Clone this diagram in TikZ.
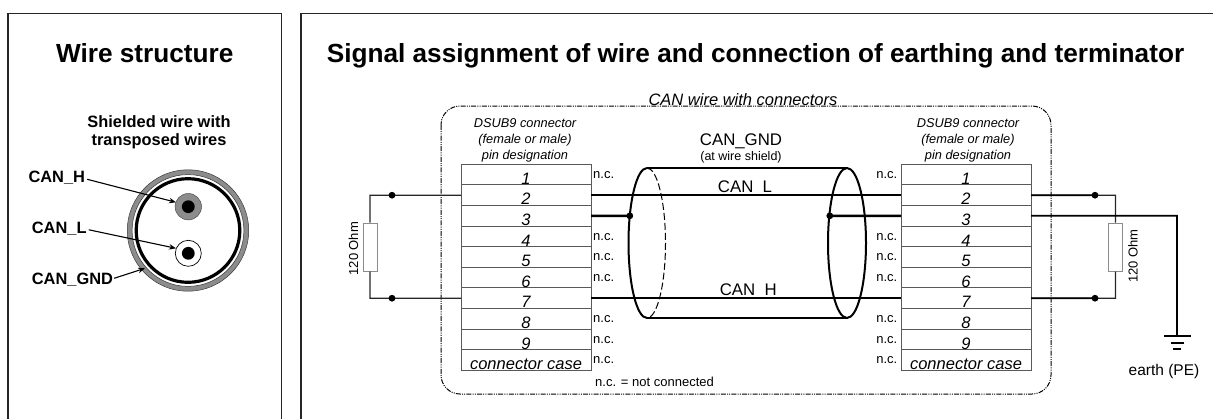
\documentclass[tikz,border=0pt]{standalone}
\usepackage{fontspec}
\setmainfont{Liberation Sans}
\usetikzlibrary{arrows.meta}
\newcommand\fsz[1]{\fontsize{#1pt}{#1pt}\selectfont}
\begin{document}
\begin{tikzpicture}[x=1pt,y=-1pt,
  panel/.style={draw=black!85, line width=1.8pt},
  title/.style={font=\fsz{26.2}\bfseries, inner sep=0pt},
  blbl/.style={font=\fsz{16.4}\bfseries, inner sep=0pt},
  pinrow/.style={draw=black!65, line width=0.9pt, minimum width=130pt, minimum height=20.6pt, inner sep=0pt, outer sep=0pt},
  rowtxt/.style={font=\fsz{16.5}\itshape, inner sep=0pt},
  hdr/.style={font=\fsz{12.8}\itshape, inner sep=0pt},
  nc/.style={font=\fsz{13}, inner sep=0pt},
  sig/.style={font=\fsz{16.8}, inner sep=0pt},
  wire/.style={line width=1.8pt, black},
  thinwire/.style={line width=1.4pt, black!85},
  gndwire/.style={line width=2.6pt, black},
  cyl/.style={line width=2pt, black},
  res/.style={draw=black!45, line width=1pt, fill=white, minimum width=14pt, minimum height=48pt, inner sep=0pt},
  border/.style={line width=1pt, dash pattern=on 5pt off 1.2pt on 1pt off 1.2pt on 1pt off 1.2pt, rounded corners=19pt},
  arr/.style={line width=1.1pt, -{Stealth[length=7pt,width=5.5pt]}}
]
\useasboundingbox (0,0) rectangle (1213,418);
% panels
\draw[panel] (8.3,430) -- (8.3,13.5) -- (281.5,13.5) -- (281.5,430);
\draw[panel] (301,430) -- (301,13.5) -- (1225,13.5);
\node[title, anchor=base] (t1) at (144.8,62.5) {Wire structure};
\node[title, anchor=base] (t2) at (755.5,62.5) {Signal assignment of wire and connection of earthing and terminator};

% ---- left panel: wire structure ----
\node[blbl, anchor=base] (sh1) at (159,127.3) {Shielded wire with};
\node[blbl, anchor=base] (sh2) at (159,145.7) {transposed wires};
\coordinate (cab) at (188,230.5);
\draw[line width=4.6pt, black!45] (cab) circle[radius=58.3pt];
\draw[line width=0.5pt, black!80] (cab) circle[radius=60.7pt];
\draw[line width=0.5pt, black!80] (cab) circle[radius=55.9pt];
\draw[line width=3.2pt, black] (cab) circle[radius=51.8pt];
\coordinate (cH) at (188.3,206.7);
\coordinate (cL) at (188.3,253.3);
\draw[fill=black!45, draw=black!70, line width=0.5pt] (cH) circle[radius=13.2pt];
\fill[black] (cH) circle[radius=6.4pt];
\draw[fill=white, draw=black, line width=0.7pt] (cL) circle[radius=13pt];
\fill[black] (cL) circle[radius=6.4pt];
\node[blbl, anchor=base west] (lH) at (28.3,182.5) {CAN\_H};
\node[blbl, anchor=base west] (lL) at (31.7,233.5) {CAN\_L};
\node[blbl, anchor=base west] (lG) at (31.7,284) {CAN\_GND};
\coordinate (tipH) at (176,202.3);
\coordinate (tipL) at (176,248.3);
\coordinate (tipG) at (145,268.3);
\draw[arr] ([xshift=2pt,yshift=-1.5pt]lH.east) -- (tipH);
\draw[arr] ([xshift=2pt,yshift=-1pt]lL.east) -- (tipL);
\draw[arr] ([xshift=1pt,yshift=1pt]lG.east) -- (tipG);

% ---- right panel ----
\draw[border] (441,106) rectangle (1051,394);
\node[font=\fsz{16.5}\itshape, inner sep=0pt, anchor=base] (cw) at (743,105) {CAN wire with connectors};
\node[nc, anchor=base west] (ncnote) at (595,386) {n.c. = not connected};

% pin rows
\foreach \i in {1,...,10}{
  \pgfmathsetmacro\yc{164.3+(\i-1)*20.6+10.3}
  \node[pinrow] (L\i) at (526,\yc) {};
  \node[pinrow] (R\i) at (966,\yc) {};
}
\foreach \i/\t in {1/1,2/2,3/3,4/4,5/5,6/6,7/7,8/8,9/9,10/connector case}{
  \node[rowtxt, anchor=base] (Lt\i) at ([yshift=0.6pt]L\i.south) {\t};
  \node[rowtxt, anchor=base] (Rt\i) at ([yshift=0.6pt]R\i.south) {\t};
}
\foreach \i in {1,4,5,6,8,9,10}{
  \node[nc, anchor=base west] (Lnc\i) at ([xshift=2pt,yshift=-14pt]L\i.north east) {n.c.};
  \node[nc, anchor=base east] (Rnc\i) at ([xshift=-3.5pt,yshift=-14pt]R\i.north west) {n.c.};
}
% headers
\node[hdr, anchor=base] (hL1) at (525,127.7) {DSUB9 connector};
\node[hdr, anchor=base] (hL2) at (525,143.4) {(female or male)};
\node[hdr, anchor=base] (hL3) at (525,159) {pin designation};
\node[hdr, anchor=base] (hR1) at (968,127.7) {DSUB9 connector};
\node[hdr, anchor=base] (hR2) at (968,143.4) {(female or male)};
\node[hdr, anchor=base] (hR3) at (968,159) {pin designation};

% cable (cylinder)
\draw[cyl] (647,168) -- (847,168);
\draw[cyl] (647,318) -- (847,318);
\draw[cyl] (647,168) arc[start angle=90, end angle=270, x radius=18.5pt, y radius=75pt];
\draw[line width=1pt, dash pattern=on 7pt off 3pt] (647,168) arc[start angle=90, end angle=-90, x radius=18.5pt, y radius=75pt];
\draw[cyl] (847,243) ellipse[x radius=19pt, y radius=75pt];
\node[sig, anchor=base] (gndl) at (741,145) {CAN\_GND};
\node[font=\fsz{12.5}, inner sep=0pt, anchor=base] (gnds) at (741,160) {(at wire shield)};

% signal wires
\draw[wire] (L2.east) -- (R2.west);
\draw[wire] (L7.east) -- (R7.west);
\node[sig, anchor=base] (canl) at (745,192.5) {CAN\_L};
\node[sig, anchor=base] (canh) at (748.3,295.5) {CAN\_H};
\coordinate (shL) at (629.8,215.8);
\coordinate (shR) at (829.8,215.8);
\draw[gndwire] (L3.east) -- (shL);
\draw[gndwire] (shR) -- (R3.west);
\fill (shL) circle[radius=3.4pt];
\fill (shR) circle[radius=3.4pt];

% left terminator
\node[res] (resL) at (370,247) {};
\node[font=\fsz{13}, inner sep=0pt, rotate=90] (rlL) at (353.5,248.7) {120 Ohm};
\coordinate (cL2) at (370,195.2);
\coordinate (cL7) at (370,298.2);
\coordinate (dL2) at (392,195.2);
\coordinate (dL7) at (392,298.2);
\draw[thinwire] (L2.west) -- (cL2) -- (resL.north);
\draw[thinwire] (L7.west) -- (cL7) -- (resL.south);
\fill (dL2) circle[radius=3.4pt];
\fill (dL7) circle[radius=3.4pt];

% right terminator
\node[res] (resR) at (1115.5,247) {};
\node[font=\fsz{13}, inner sep=0pt, rotate=90] (rlR) at (1133,256) {120 Ohm};
\coordinate (cR2) at (1115.5,195.2);
\coordinate (cR7) at (1115.5,298.2);
\coordinate (dR2) at (1095,195.2);
\coordinate (dR7) at (1095,298.2);
\draw[thinwire] (R2.east) -- (cR2) -- (resR.north);
\draw[thinwire] (R7.east) -- (cR7) -- (resR.south);
\draw[wire] (R2.east) -- (dR2);
\draw[wire] (R7.east) -- (dR7);
\fill (dR2) circle[radius=3.4pt];
\fill (dR7) circle[radius=3.4pt];

% earth
\coordinate (gc) at (1177,215.8);
\coordinate (gnd) at (1177,336);
\draw[wire] (R3.east) -- (gc) -- (gnd);
\draw[line width=2pt] (1164,336) -- (1190.5,336);
\draw[line width=2pt] (1171,342.7) -- (1184,342.7);
\draw[line width=2pt] (1173.3,349.3) -- (1181,349.3);
\node[font=\fsz{15.5}, inner sep=0pt, anchor=base] (earth) at (1164,375) {earth (PE)};
\end{tikzpicture}
\end{document}
